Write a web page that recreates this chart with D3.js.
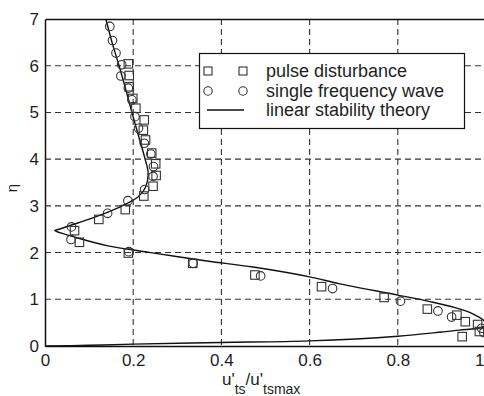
<!DOCTYPE html>
<html><head><meta charset="utf-8">
<script src="https://cdn.jsdelivr.net/npm/d3@7/dist/d3.min.js"></script>
<style>html,body{margin:0;padding:0;background:#fff;}svg{display:block;font-family:"Liberation Sans",Arial,sans-serif;}</style>
</head><body>
<script>
// ---- data ----
const xTicks = [0, 0.2, 0.4, 0.6, 0.8, 1];
const xTickLabels = ["0", "0.2", "0.4", "0.6", "0.8", "1"];
const yTicks = [0, 1, 2, 3, 4, 5, 6, 7];
const yTickLabels = ["0", "1", "2", "3", "4", "5", "6", "7"];

// pulse disturbance (squares)
const pulseU   = [0.189,0.191,0.191,0.199,0.206,0.225,0.223,0.228,0.242,0.251,0.252,0.245,0.224,0.182,0.122,0.067,0.078,0.189,0.335,0.476,0.627,0.769,0.867,0.934,0.953,0.981,0.985,0.946];
const pulseEta = [6.04,5.79,5.55,5.30,5.09,4.84,4.62,4.41,4.13,3.90,3.65,3.42,3.21,2.92,2.71,2.47,2.22,1.99,1.77,1.52,1.27,1.04,0.79,0.66,0.52,0.46,0.31,0.20];

// single frequency wave (circles)
const singleU   = [0.147,0.153,0.161,0.174,0.172,0.189,0.197,0.204,0.212,0.225,0.240,0.246,0.245,0.226,0.188,0.142,0.060,0.059,0.190,0.336,0.489,0.652,0.806,0.891,0.922,0.990,0.995];
const singleEta = [6.84,6.54,6.27,6.02,5.78,5.52,5.27,4.91,4.66,4.34,4.11,3.84,3.63,3.35,3.11,2.84,2.55,2.28,2.02,1.77,1.50,1.23,0.96,0.75,0.62,0.38,0.29];

// linear stability theory
const theoryU   = [0.138,0.152,0.168,0.183,0.197,0.212,0.227,0.234,0.228,0.212,0.185,0.147,0.102,0.057,0.032,0.022,0.036,0.064,0.140,0.240,0.367,0.472,0.600,0.669,0.800,0.873,0.930,0.970,0.993,1.000,0.990,0.940,0.900,0.800,0.600,0.400,0.200,0.100,0.000];
const theoryEta = [7.00,6.50,6.00,5.50,5.00,4.50,4.00,3.70,3.40,3.20,3.05,2.88,2.72,2.58,2.50,2.47,2.42,2.34,2.15,2.00,1.82,1.69,1.48,1.33,1.09,0.95,0.82,0.69,0.56,0.46,0.40,0.34,0.30,0.21,0.11,0.075,0.04,0.015,0.00];

const legendLabels = ["pulse disturbance", "single frequency wave", "linear stability theory"];

// ---- layout ----
const W = 484, H = 396;
const x = d3.scaleLinear().domain([0, 1]).range([45, 486]);
const y = d3.scaleLinear().domain([0, 7]).range([346, 19]);
const ink = "#1e1e1e";

const svg = d3.select("body").append("svg").attr("width", W).attr("height", H);

// grid
const grid = svg.append("g").attr("stroke", "#333").attr("stroke-width", 1.1).attr("stroke-dasharray", "6,4");
grid.selectAll("line.v").data(xTicks.filter(d => d > 0 && d < 1)).join("line")
  .attr("x1", d => x(d)).attr("x2", d => x(d)).attr("y1", y(7)).attr("y2", y(0));
grid.selectAll("line.h").data(yTicks.filter(d => d > 0 && d < 7)).join("line")
  .attr("x1", x(0)).attr("x2", x(1)).attr("y1", d => y(d)).attr("y2", d => y(d));

// axes (frame + labels)
const xAxis = d3.axisBottom(x).tickValues(xTicks).tickFormat((d, i) => xTickLabels[i]).tickSize(0).tickPadding(8);
const gx = svg.append("g").attr("transform", `translate(0,${y(0)})`).call(xAxis);
const yAxis = d3.axisLeft(y).tickValues(yTicks).tickFormat((d, i) => yTickLabels[i]).tickSize(0).tickPadding(6);
const gy = svg.append("g").attr("transform", `translate(${x(0)},0)`).call(yAxis);
const gTop = svg.append("g").attr("transform", `translate(0,${y(7)})`).call(d3.axisTop(x).tickValues([]).tickSize(0));
[gx, gy, gTop].forEach(g => {
  g.select(".domain").attr("stroke", "#111").attr("stroke-width", 1.5);
  g.selectAll("text").attr("font-size", 17).attr("fill", ink).attr("font-family", "Liberation Sans, Arial, sans-serif");
});
// keep the last x tick label inside the picture
gx.selectAll(".tick").filter(d => d === 1).select("text").attr("text-anchor", "end").attr("dx", "-2");

// theory curve
const line = d3.line().x(d => x(d[0])).y(d => y(d[1])).curve(d3.curveCatmullRom.alpha(0.5));
svg.append("path").datum(theoryU.map((u, i) => [u, theoryEta[i]]))
  .attr("d", line).attr("fill", "none").attr("stroke", "#111").attr("stroke-width", 1.4);

// markers
const S = 8.5;
svg.append("g").selectAll("rect").data(pulseU.map((u, i) => [u, pulseEta[i]])).join("rect")
  .attr("x", d => x(d[0]) - S / 2).attr("y", d => y(d[1]) - S / 2).attr("width", S).attr("height", S)
  .attr("fill", "none").attr("stroke", "#333").attr("stroke-width", 1.1);
svg.append("g").selectAll("circle").data(singleU.map((u, i) => [u, singleEta[i]])).join("circle")
  .attr("cx", d => x(d[0])).attr("cy", d => y(d[1])).attr("r", 4.3)
  .attr("fill", "none").attr("stroke", "#333").attr("stroke-width", 1.1);

// legend
const lg = svg.append("g");
lg.append("rect").attr("x", 199.5).attr("y", 53.5).attr("width", 265).attr("height", 75)
  .attr("fill", "#fff").attr("stroke", "#111").attr("stroke-width", 1.2);
const rows = [71, 91, 110];
[208, 243].forEach(cx => {
  lg.append("rect").attr("x", cx - 4).attr("y", rows[0] - 4).attr("width", 8).attr("height", 8)
    .attr("fill", "none").attr("stroke", "#333").attr("stroke-width", 1.1);
  lg.append("circle").attr("cx", cx).attr("cy", rows[1]).attr("r", 4.2)
    .attr("fill", "none").attr("stroke", "#333").attr("stroke-width", 1.1);
});
lg.append("line").attr("x1", 207).attr("x2", 244).attr("y1", rows[2]).attr("y2", rows[2])
  .attr("stroke", "#111").attr("stroke-width", 1.4);
legendLabels.forEach((t, i) => {
  lg.append("text").attr("x", 266).attr("y", rows[i] + 6).attr("font-size", 18).attr("fill", ink).text(t);
});

// axis titles
const xt = svg.append("text").attr("x", 222).attr("y", 385).attr("font-size", 17).attr("fill", ink);
xt.append("tspan").text("u'");
xt.append("tspan").attr("dy", 9).attr("font-size", 14).text("ts");
xt.append("tspan").attr("dy", -9).text("/u'");
xt.append("tspan").attr("dy", 9).attr("font-size", 14).text("tsmax");

svg.append("text").attr("transform", "translate(17,188) rotate(-90)").attr("text-anchor", "middle")
  .attr("font-size", 15).attr("fill", ink).text("η");
</script>
</body></html>
